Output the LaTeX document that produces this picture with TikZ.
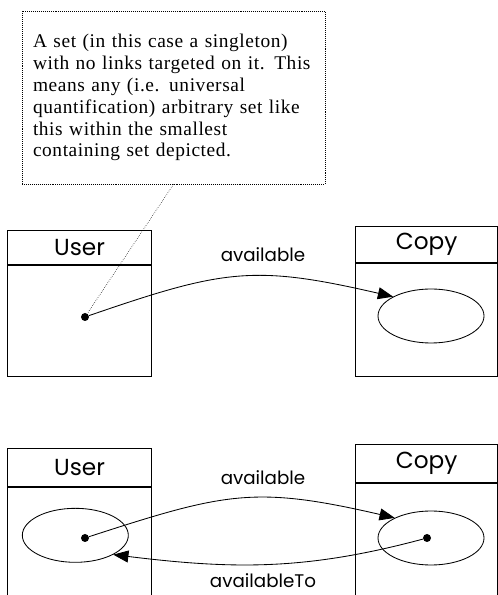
\documentclass[tikz,border=0pt]{standalone}
\usepackage{fontspec}
\newfontfamily\notefont[LetterSpace=3]{Liberation Serif}
\newfontfamily\labelfont{Poppins}
\usetikzlibrary{positioning,shapes.geometric,arrows.meta}

\begin{document}
\begin{tikzpicture}[
header/.style={draw, thick, minimum width=3.6cm, minimum height=0.85cm, inner sep=0pt, anchor=north west, font=\labelfont\fontsize{16.5}{18}\selectfont},
body/.style={draw, thick, minimum width=3.6cm, inner sep=0pt, anchor=north},
set/.style={ellipse, draw, semithick, minimum width=2.65cm, minimum height=1.35cm, inner sep=0pt},
elem/.style={circle, fill, black, inner sep=0pt, minimum size=0.2cm},
link/.style={semithick, -{Triangle[length=0.38cm, width=0.3cm]}},
linklabel/.style={anchor=base, font=\labelfont\fontsize{13}{15}\selectfont},
note/.style={draw, densely dotted, thin, minimum width=7.575cm, minimum height=4.325cm, text width=7.025cm, inner xsep=0.275cm, align=left, font=\notefont\fontsize{13.8}{15.6}\selectfont}]

\useasboundingbox (0,0) rectangle (12.45,14.875);

% comment
\node[note] (note) at (4.3375,12.4375) {A set (in this case a singleton)\\ with no links targeted on it. This\\ means any (i.e. universal\\ quantification) arbitrary set like\\ this within the smallest\\ containing set depicted.};

% first diagram
\node[header] (user1) at (0.175,9.125) {User};
\node[body, minimum height=2.775cm] (user1body) at (user1.south) {};
\node[elem] (d1) at (2.125,6.95) {};
\node[header, minimum width=3.555cm, minimum height=0.9cm] (copy1) at (8.875,9.225) {Copy};
\node[body, minimum width=3.555cm, minimum height=2.825cm] (copy1body) at (copy1.south) {};
\node[set] (copyset1) at (10.775,6.975) {};
\node[linklabel] (lab1) at (6.575,8.325) {available};

\draw[densely dotted, thin] (note.south) -- (d1);
\draw[link] (d1) to[out=19, in=167, looseness=1.2] (copyset1.153);

% second diagram
\node[header, minimum height=0.95cm] (user2) at (0.175,3.675) {User};
\node[body, minimum height=4.2cm] (user2body) at (user2.south) {};
\node[set] (userset2) at (1.883,1.492) {};
\node[elem] (d2) at (2.125,1.425) {};
\node[header, minimum width=3.555cm, minimum height=0.95cm] (copy2) at (8.875,3.775) {Copy};
\node[body, minimum width=3.555cm, minimum height=4.2cm] (copy2body) at (copy2.south) {};
\node[set] (copyset2) at (10.775,1.425) {};
\node[elem] (d3) at (10.675,1.425) {};
\node[linklabel] (lab2) at (6.575,2.75) {available};
\node[linklabel] (lab3) at (6.575,0.2) {availableTo};

\draw[link] (d2) to[out=18, in=167, looseness=1.2] (copyset2.151);
\draw[link] (d3) to[out=195, in=-7] (userset2.-27);

\end{tikzpicture}
\end{document}
